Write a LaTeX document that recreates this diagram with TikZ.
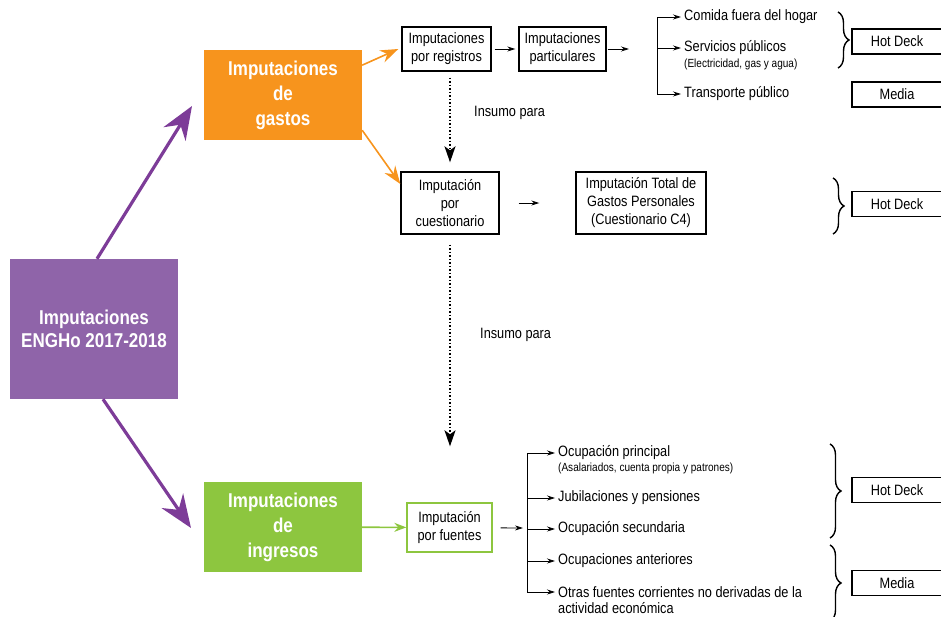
\documentclass[tikz,border=0pt]{standalone}
\usepackage{fontspec}
\setmainfont[FakeStretch=0.85]{Liberation Sans}
\usetikzlibrary{arrows.meta,decorations.pathreplacing,calc}

\definecolor{moradocaja}{HTML}{8F64A9}
\definecolor{moradoflecha}{HTML}{7D3C98}
\definecolor{naranja}{HTML}{F7941D}
\definecolor{verde}{HTML}{8DC63F}

\tikzset{
  bloque/.style={fill=#1, text=white, font=\fontsize{20}{25}\selectfont\bfseries,
    align=center, inner sep=0pt, minimum width=158pt, minimum height=90pt},
  caja/.style={draw, line width=1.4pt, align=center, inner sep=0pt,
    font=\fontsize{15}{18}\selectfont},
  metodo/.style={caja, minimum width=90pt, minimum height=25pt},
  item/.style={anchor=west, inner sep=3pt, font=\fontsize{15}{18}\selectfont},
  nota/.style={anchor=west, inner sep=3pt, font=\fontsize{11.8}{13}\selectfont},
  flecha/.style={-{Stealth[length=8pt,width=5pt]}, line width=0.8pt},
  flechanaranja/.style={naranja, line width=1.6pt, -{Stealth[length=18pt,width=13pt,inset=6pt]}},
  flechamorada/.style={moradoflecha, line width=3.2pt, -{Stealth[length=33pt,width=26pt,inset=11pt]}},
  insumo/.style={dotted, line width=1.5pt, -{Stealth[length=16pt,width=11pt,inset=4pt]}},
  llave/.style={decorate, decoration={brace, amplitude=#1}, line width=1.4pt},
  llave/.default=11pt,
}

\begin{document}
\begin{tikzpicture}[x=1pt, y=-1pt]
  \useasboundingbox (0,0) rectangle (941,616);

  % bloques principales
  \node[bloque=moradocaja, minimum width=168pt, minimum height=140pt,
    font=\fontsize{20}{23}\selectfont\bfseries] (engho) at (94,329) {Imputaciones\\ENGHo 2017-2018};
  \node[bloque=naranja] (gastos) at (283,95) {Imputaciones\\de\\gastos};
  \node[bloque=verde] (ingresos) at (283,527) {Imputaciones\\de\\ingresos};

  \coordinate (tipG) at (192,106);
  \coordinate (tipI) at (191,528);
  \draw[flechamorada] ([xshift=3pt]engho.north) -- (tipG);
  \draw[flechamorada] ([xshift=9pt]engho.south) -- (tipI);

  % gastos
  \node[caja, minimum width=89pt, minimum height=44pt] (registros) at (446.5,49) {Imputaciones\\por registros};
  \node[caja, minimum width=87pt, minimum height=44pt] (particulares) at (562.5,49) {Imputaciones\\particulares};
  \node[caja, minimum width=98pt, minimum height=62pt] (cuest) at (450,203) {Imputación\\por\\cuestionario};
  \node[caja, minimum width=130pt, minimum height=62pt] (total) at (641,203) {Imputación Total de\\Gastos Personales\\(Cuestionario C4)};

  \draw[flechanaranja] ($(gastos.north east)!0.17!(gastos.south east)$) -- ([xshift=-3pt]registros.west);
  \draw[flechanaranja] ($(gastos.north east)!0.89!(gastos.south east)$) -- ($(cuest.north west)!0.2!(cuest.south west)$);

  \draw[flecha, shorten <=3pt, shorten >=3pt] (registros) -- (particulares);
  \coordinate (finP) at (629,49);
  \draw[flecha, shorten <=1pt] (particulares) -- (finP);
  \draw[flecha, shorten <=19pt, shorten >=36pt] (cuest) -- (total);

  \node[item] (comida) at (681,17) {Comida fuera del hogar};
  \node[item] (servicios) at (681,48) {Servicios públicos};
  \node[nota] (electricidad) at (681,64) {(Electricidad, gas y agua)};
  \node[item] (transporte) at (681,94) {Transporte público};

  \coordinate (arbolG) at (657,0);
  \draw[line width=0.8pt] (arbolG |- comida.west) -- (arbolG |- transporte.west);
  \foreach \n in {comida, servicios, transporte}
    \draw[flecha] (arbolG |- \n.west) -- (\n.west);

  \draw[insumo, shorten <=6pt, shorten >=9pt] (cuest.north |- registros.south) -- (cuest.north);
  \node[item] (insumoA) at (471,113) {Insumo para};

  \draw[llave] (838,12) -- (838,68);
  \draw[llave] (833,178) -- (833,234);
  \node[metodo] (hotA) at (897,41.5) {Hot Deck};
  \node[metodo] (mediaA) at (897,94.5) {Media};
  \node[metodo] (hotB) at (897,204) {Hot Deck};

  % ingresos
  \node[caja, draw=verde, minimum width=85pt, minimum height=49pt] (fuentes) at (449.5,527.5) {Imputación\\por fuentes};
  \draw[verde, line width=1.6pt, -{Stealth[length=12pt,width=9pt,inset=4pt]}] (ingresos) -- (fuentes);

  \draw[insumo, shorten <=10pt, shorten >=56pt] (cuest.south) -- (cuest.south |- fuentes.north);
  \node[item] (insumoB) at (477,335) {Insumo para};

  \coordinate (finF) at (523,528);
  \draw[flecha, shorten <=8pt] (fuentes) -- (finF);

  \node[item] (principal) at (555,453) {Ocupación principal};
  \node[nota] (asalariados) at (555,468) {(Asalariados, cuenta propia y patrones)};
  \node[item] (jubilaciones) at (555,498) {Jubilaciones y pensiones};
  \node[item] (secundaria) at (555,529) {Ocupación secundaria};
  \node[item] (anteriores) at (555,561) {Ocupaciones anteriores};
  \node[item] (otras) at (555,592) {Otras fuentes corrientes no derivadas de la};
  \node[item] (actividad) at (555,608) {actividad económica};

  \coordinate (arbolI) at (527,0);
  \draw[line width=0.8pt] (arbolI |- principal.west) -- (arbolI |- otras.west);
  \foreach \n in {principal, jubilaciones, secundaria, anteriores, otras}
    \draw[flecha] (arbolI |- \n.west) -- (\n.west);

  \draw[llave] (830,444) -- (830,538);
  \draw[llave] (830,545) -- (830,621);
  \node[metodo] (hotC) at (897,490) {Hot Deck};
  \node[metodo] (mediaB) at (897,583) {Media};
\end{tikzpicture}
\end{document}
